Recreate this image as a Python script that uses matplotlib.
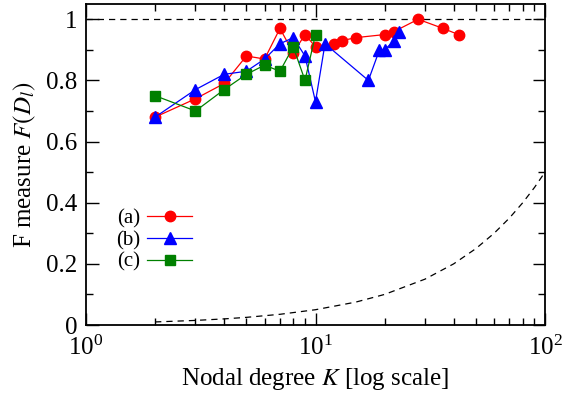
import numpy as np
import matplotlib
matplotlib.use("Agg")
import matplotlib.pyplot as plt
from matplotlib.ticker import FixedLocator, LogLocator, NullFormatter

plt.rcParams['font.family'] = ['Liberation Serif', 'DejaVu Serif']
plt.rcParams['mathtext.fontset'] = 'stix'

# series (a): red circles
k_a = [2, 3, 4, 5, 6, 7, 8, 9, 10, 12, 13, 15, 20, 22, 28, 36, 42]
f_a = [0.68, 0.74, 0.79, 0.88, 0.87, 0.97, 0.89, 0.95, 0.91, 0.92, 0.93, 0.94, 0.95, 0.96, 1.00, 0.97, 0.95]

# series (b): blue triangles
k_b = [2, 3, 4, 5, 6, 7, 8, 9, 10, 11, 17, 19, 20, 22, 23]
f_b = [0.68, 0.77, 0.82, 0.83, 0.87, 0.92, 0.94, 0.88, 0.73, 0.92, 0.80, 0.90, 0.90, 0.93, 0.96]

# series (c): green squares
k_c = [2, 3, 4, 5, 6, 7, 8, 9, 10]
f_c = [0.75, 0.70, 0.77, 0.82, 0.85, 0.83, 0.91, 0.80, 0.95]

# dashed baseline
k_base = [2, 3, 4, 5, 7, 10, 15, 20, 30, 40, 50, 60, 70, 80, 90, 100]
f_base = [0.01, 0.015, 0.02, 0.025, 0.035, 0.05, 0.075, 0.10, 0.15, 0.20, 0.25, 0.30, 0.35, 0.40, 0.45, 0.50]

y_ticks = [0, 0.2, 0.4, 0.6, 0.8, 1]
y_ticklabels = ['0', '0.2', '0.4', '0.6', '0.8', '1']

fig = plt.figure(figsize=(5.68, 4.0), dpi=100)
ax = fig.add_axes([86 / 568, 75 / 400, (545 - 86) / 568, (325 - 4) / 400])

ax.axhline(1.0, color='black', lw=0.9, ls=(0, (5, 4)))
ax.plot(k_base, f_base, color='black', lw=0.9, ls=(0, (5, 4)))

ax.plot(k_a, f_a, '-o', color='red', lw=0.9, ms=7.5, label='(a)')
ax.plot(k_b, f_b, '-^', color='blue', lw=0.9, ms=8, label='(b)')
ax.plot(k_c, f_c, '-s', color='green', lw=0.9, ms=7, label='(c)')

ax.set_xscale('log')
ax.set_xlim(1, 100)
ax.set_ylim(0, 1.05)
ax.yaxis.set_major_locator(FixedLocator(y_ticks))
ax.set_yticklabels(y_ticklabels)
ax.yaxis.set_minor_locator(FixedLocator([0.1, 0.3, 0.5, 0.7, 0.9]))
ax.xaxis.set_minor_locator(LogLocator(base=10, subs=np.arange(2, 10)))
ax.xaxis.set_minor_formatter(NullFormatter())

ax.tick_params(which='both', direction='in', top=True, right=True, labelsize=18, pad=6)
ax.tick_params(which='major', length=9, width=1)
ax.tick_params(which='minor', length=5, width=1)
ax.tick_params(axis='x', pad=8)
for s in ax.spines.values():
    s.set_linewidth(1.3)

ax.set_xlabel('Nodal degree $K$ [log scale]', fontsize=18, labelpad=4)
ax.set_ylabel('F measure $F(D_l)$', fontsize=18, labelpad=6)

ax.legend(loc='upper left', bbox_to_anchor=(0.025, 0.42), frameon=False, markerfirst=False,
          fontsize=15, handlelength=2.2, handletextpad=0.3, labelspacing=0.1)

fig.savefig('out.png', dpi=100)
